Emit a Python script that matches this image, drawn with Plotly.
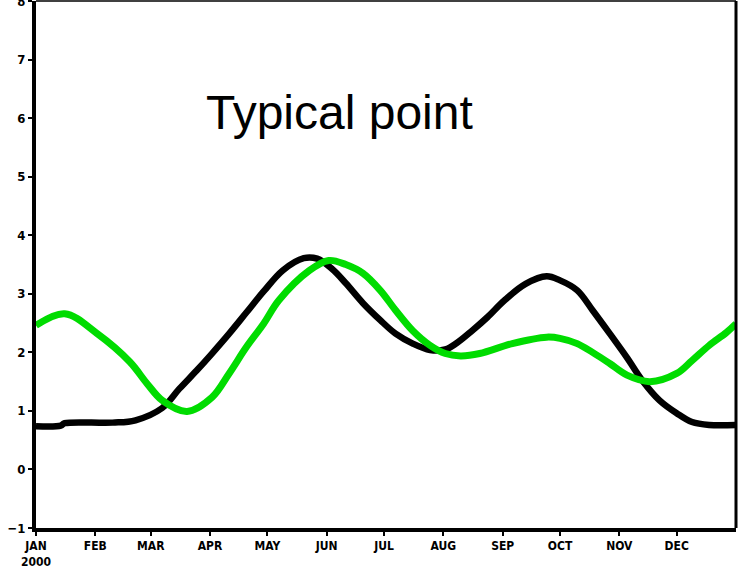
import plotly.graph_objects as go

# ---- data ----
black_dates = ["2000-01-01", "2000-01-14", "2000-01-16", "2000-02-10", "2000-02-22",
               "2000-03-07", "2000-03-16", "2000-03-25", "2000-04-02", "2000-04-11",
               "2000-04-20", "2000-04-29", "2000-05-09", "2000-05-20", "2000-05-27",
               "2000-06-04", "2000-06-11", "2000-06-20", "2000-06-29", "2000-07-07",
               "2000-07-16", "2000-07-25", "2000-08-02", "2000-08-08", "2000-08-16",
               "2000-08-24", "2000-09-02", "2000-09-13", "2000-09-24", "2000-10-01",
               "2000-10-10", "2000-10-18", "2000-10-27", "2000-11-05", "2000-11-13",
               "2000-11-22", "2000-12-01", "2000-12-09", "2000-12-18", "2001-01-01"]
black_vals = [0.74, 0.75, 0.79, 0.80, 0.84,
              1.05, 1.38, 1.69, 1.98, 2.32,
              2.68, 3.04, 3.40, 3.61, 3.60,
              3.42, 3.18, 2.84, 2.55, 2.32,
              2.15, 2.04, 2.05, 2.16, 2.37,
              2.60, 2.89, 3.17, 3.30, 3.23,
              3.06, 2.72, 2.32, 1.91, 1.52,
              1.18, 0.96, 0.81, 0.76, 0.76]

green_dates = ["2000-01-01", "2000-01-16", "2000-02-02", "2000-02-19", "2000-02-28",
               "2000-03-07", "2000-03-20", "2000-04-02", "2000-04-11", "2000-04-20",
               "2000-04-29", "2000-05-07", "2000-05-23", "2000-06-02", "2000-06-11",
               "2000-06-20", "2000-06-29", "2000-07-07", "2000-07-16", "2000-07-25",
               "2000-08-02", "2000-08-10", "2000-08-20", "2000-09-06", "2000-09-24",
               "2000-10-01", "2000-10-10", "2000-10-18", "2000-10-27", "2000-11-05",
               "2000-11-17", "2000-12-01", "2000-12-09", "2000-12-18", "2000-12-27",
               "2001-01-01"]
green_vals = [2.46, 2.66, 2.32, 1.84, 1.47,
              1.18, 0.99, 1.23, 1.64, 2.09,
              2.49, 2.89, 3.40, 3.57, 3.50,
              3.35, 3.06, 2.72, 2.37, 2.12,
              1.98, 1.94, 1.98, 2.15, 2.26,
              2.24, 2.15, 2.00, 1.81, 1.61,
              1.50, 1.64, 1.86, 2.12, 2.34,
              2.49]

month_ticks = ["2000-01-01", "2000-02-01", "2000-03-01", "2000-04-01", "2000-05-01",
               "2000-06-01", "2000-07-01", "2000-08-01", "2000-09-01", "2000-10-01",
               "2000-11-01", "2000-12-01"]
month_labels = ["JAN<br>2000", "FEB", "MAR", "APR", "MAY", "JUN", "JUL", "AUG",
                "SEP", "OCT", "NOV", "DEC"]
y_ticks = [-1, 0, 1, 2, 3, 4, 5, 6, 7, 8]

title_text = "Typical point"

fig = go.Figure()
fig.add_trace(go.Scatter(x=black_dates, y=black_vals, mode="lines",
                         line=dict(color="black", width=6.5, shape="spline", smoothing=1.0),
                         showlegend=False, hoverinfo="skip"))
fig.add_trace(go.Scatter(x=green_dates, y=green_vals, mode="lines",
                         line=dict(color="#00dc00", width=7, shape="spline", smoothing=1.0),
                         showlegend=False, hoverinfo="skip"))

tick_font = dict(family="DejaVu Sans Condensed", size=12, color="black", weight="bold")

fig.update_xaxes(range=["2000-01-01", "2001-01-01"], tickmode="array",
                 tickvals=month_ticks, ticktext=month_labels, automargin=False,
                 showgrid=False, zeroline=False, showline=True, linecolor="black",
                 linewidth=4, ticks="outside", ticklen=4, tickwidth=2, tickcolor="black",
                 tickfont=tick_font, tickangle=0)
fig.update_yaxes(range=[-1, 8.002], tickmode="array", tickvals=y_ticks, automargin=False,
                 ticktext=[("\u2212" + str(-v)) if v < 0 else str(v) for v in y_ticks],
                 ticklabeloverflow="allow",
                 showgrid=False, zeroline=False, showline=True, linecolor="black",
                 linewidth=4, ticks="outside", ticklen=4, tickwidth=2, tickcolor="black",
                 tickfont=dict(family="DejaVu Sans Condensed", size=13, color="black",
                               weight="bold"))

# thin top and right border
fig.add_shape(type="line", xref="paper", yref="paper", x0=0, x1=1, y0=1, y1=1,
              line=dict(color="black", width=1.5))
fig.add_shape(type="line", xref="paper", yref="paper", x0=1, x1=1, y0=0, y1=1,
              line=dict(color="black", width=3))

fig.add_annotation(text=title_text, xref="paper", yref="paper", x=0.434, y=0.788,
                   showarrow=False, xanchor="center", yanchor="middle",
                   font=dict(family="Liberation Sans", size=48, color="black"))

fig.update_layout(width=740, height=569, margin=dict(l=36, r=4, t=1, b=41),
                  paper_bgcolor="white", plot_bgcolor="white")

fig.write_html("out.html", config={"displayModeBar": False},
               post_script="document.body.style.margin='0';document.body.style.overflow='hidden';")
